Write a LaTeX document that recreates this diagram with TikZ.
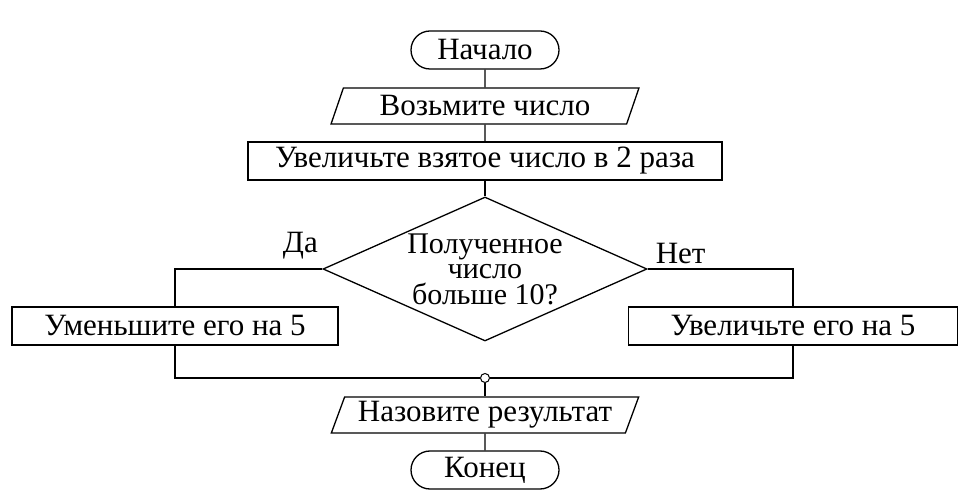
\documentclass[tikz,border=0pt]{standalone}
\usepackage{fontspec}
\setmainfont{Liberation Serif}
\usetikzlibrary{shapes.geometric, shapes.misc, positioning}

\begin{document}
\begin{tikzpicture}[x=1pt,y=1pt,node distance=56pt,on grid,line width=1.3pt,
    font=\fontsize{31}{24}\selectfont]
    \tikzstyle{term}=[rounded rectangle,draw,minimum width=148pt,minimum height=38pt,inner sep=0pt]
    \tikzstyle{io}=[trapezium,trapezium left angle=66,trapezium right angle=114,trapezium stretches=true,draw,minimum width=308pt,minimum height=36pt,inner sep=0pt]
    \tikzstyle{process}=[rectangle,draw,minimum height=38pt,inner sep=0pt]
    \tikzstyle{decision}=[diamond,draw,minimum width=324pt,minimum height=144pt,inner sep=0pt]

    \useasboundingbox (0,0) rectangle (970,-502);

    \node[term] (start) at (485,-50) {Начало};
    \node[io, below=56pt of start] (input) {Возьмите число};
    \node[process, minimum width=474pt, below=55pt of input] (double) {Увеличьте взятое число в 2 раза};
    \node[decision, below=108pt of double] (cond) {};
    \node[align=center,inner sep=0pt,font=\fontsize{30}{25.5}\selectfont] (condtext) at (cond) {Полученное\\число\\больше 10?};
    \node[process, minimum width=326pt] (minus) at (175,-326) {Уменьшите его на 5};
    \node[process, minimum width=329pt] (plus) at (793,-326) {Увеличьте его на 5};
    \node[circle,draw,fill=white,minimum size=9pt,inner sep=0pt,line width=1pt] (join) at (485,-378) {};
    \node[io, below=37pt of join] (output) {Назовите результат};
    \node[term, below=55pt of output] (stop) {Конец};

    \node (yes) at ([shift={(-22,23)}]cond.west) {Да};
    \node (no) at ([shift={(33,15)}]cond.east) {Нет};

    \draw (start) -- (input);
    \draw (input) -- (double);
    \draw (double) -- (cond);
    \draw (cond.west) -| (minus.north);
    \draw (cond.east) -| (plus.north);
    \draw (minus.south) |- (join.west);
    \draw (plus.south) |- (join.east);
    \draw (join) -- (output);
    \draw (output) -- (stop);
\end{tikzpicture}
\end{document}
